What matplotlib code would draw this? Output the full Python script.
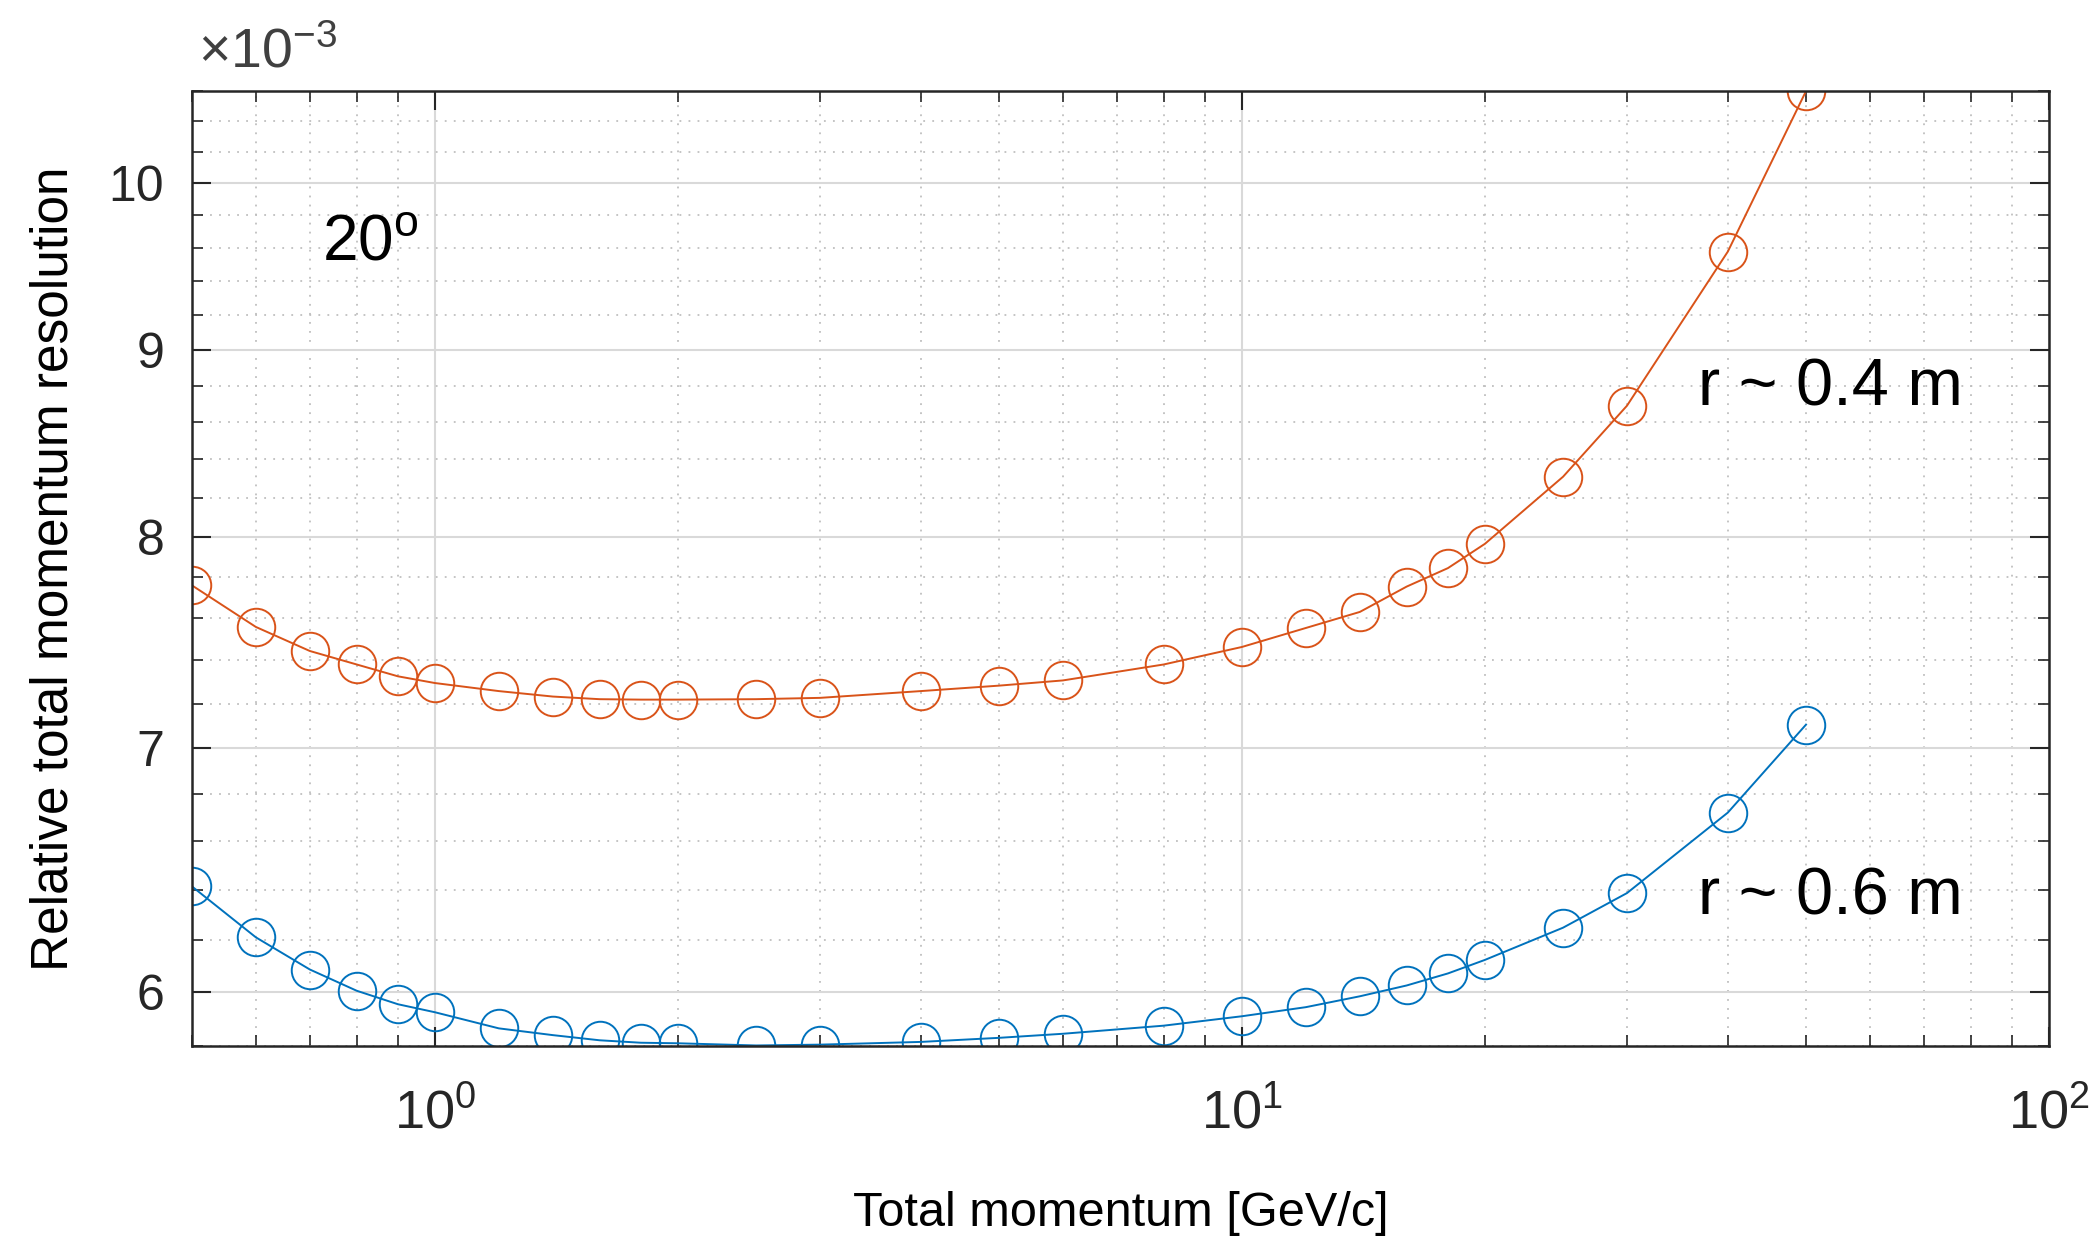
import matplotlib
matplotlib.use("Agg")
import matplotlib.pyplot as plt
from matplotlib.ticker import FixedLocator, FixedFormatter, NullFormatter, LogLocator
import numpy as np

plt.rcParams['font.family'] = ['Liberation Sans', 'DejaVu Sans']
plt.rcParams['mathtext.fontset'] = 'custom'
plt.rcParams['mathtext.rm'] = 'Liberation Sans'
plt.rcParams['mathtext.it'] = 'Liberation Sans:italic'
plt.rcParams['mathtext.bf'] = 'Liberation Sans:bold'

# Data (resolution in units of 1e-3)
momentum = [0.5, 0.6, 0.7, 0.8, 0.9, 1.0, 1.2, 1.4, 1.6, 1.8, 2, 2.5, 3, 4, 5, 6,
            8, 10, 12, 14, 16, 18, 20, 25, 30, 40, 50]
res_r04 = [7.758, 7.557, 7.443, 7.380, 7.325, 7.294, 7.257, 7.232, 7.220, 7.218,
           7.218, 7.220, 7.226, 7.257, 7.282, 7.306, 7.380, 7.462, 7.552, 7.629,
           7.752, 7.843, 7.964, 8.309, 8.690, 9.578, 10.60]
res_r06 = [6.415, 6.212, 6.087, 6.006, 5.955, 5.925, 5.865, 5.840, 5.821, 5.812,
           5.810, 5.802, 5.805, 5.815, 5.830, 5.845, 5.875, 5.910, 5.944, 5.985,
           6.026, 6.072, 6.124, 6.250, 6.388, 6.721, 7.105]
y_major = [6, 7, 8, 9, 10]
y_major_labels = ['6', '7', '8', '9', '10']
x_major = [1, 10, 100]
x_major_labels = [r'$10^0$', r'$10^1$', r'$10^2$']

blue = '#0072BD'
orange = '#D95319'
axcol = '#262626'

fig = plt.figure(figsize=(21, 12.37), dpi=100)
ax = fig.add_axes([0.0914, 0.1544, 0.8843, 0.772])

ax.plot(momentum, res_r04, '-o', color=orange, lw=1.4, ms=27, mfc='none', mew=1.4)
ax.plot(momentum, res_r06, '-o', color=blue, lw=1.4, ms=27, mfc='none', mew=1.4)

ax.set_xscale('log')
ax.set_yscale('log')
ax.set_xlim(0.5, 100)
ax.set_ylim(5.8, 10.6)

ax.xaxis.set_major_locator(FixedLocator(x_major))
ax.xaxis.set_major_formatter(FixedFormatter(x_major_labels))
ax.xaxis.set_minor_locator(LogLocator(base=10, subs=np.arange(2, 10)))
ax.xaxis.set_minor_formatter(NullFormatter())

ax.yaxis.set_major_locator(FixedLocator(y_major))
ax.yaxis.set_major_formatter(FixedFormatter(y_major_labels))
minor_y = [v / 10 for v in range(58, 107, 2) if v % 10 != 0]
ax.yaxis.set_minor_locator(FixedLocator(minor_y))
ax.yaxis.set_minor_formatter(NullFormatter())

ax.grid(which='major', color='#d9d9d9', lw=1.5, ls='-')
ax.grid(which='minor', color='#bfbfbf', lw=1.3, ls=(0, (1, 4)))
ax.set_axisbelow(True)

ax.tick_params(which='both', direction='in', top=True, right=True, colors=axcol,
               labelcolor=axcol)
ax.tick_params(which='major', length=14, width=1.5, labelsize=36)
ax.tick_params(which='minor', length=8, width=1.2)
ax.tick_params(axis='y', which='major', pad=20)
ax.tick_params(axis='x', which='major', pad=30, labelsize=39)
for s in ax.spines.values():
    s.set_color(axcol)
    s.set_linewidth(1.8)

ax.set_xlabel('Total momentum [GeV/c]', fontsize=35, color='black')
ax.set_ylabel('Relative total momentum resolution', fontsize=37, color='black')
ax.xaxis.set_label_coords(0.5, -0.152)
ax.yaxis.set_label_coords(-0.061, 0.5)

ax.text(0.003, 1.012, r'$\times10^{-3}$', transform=ax.transAxes, fontsize=40,
        color='#404040', ha='left', va='bottom')

ax.text(0.07, 0.84, r'20$^{\mathrm{o}}$', transform=ax.transAxes, fontsize=46,
        color='black', ha='left', va='center')
ax.text(0.811, 0.688, 'r ~ 0.4 m', transform=ax.transAxes, fontsize=48,
        color='black', ha='left', va='center')
ax.text(0.811, 0.155, 'r ~ 0.6 m', transform=ax.transAxes, fontsize=48,
        color='black', ha='left', va='center')

fig.savefig('out.png', dpi=100, facecolor='white')
